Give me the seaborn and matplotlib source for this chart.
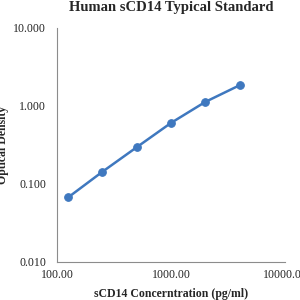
import matplotlib
matplotlib.use("Agg")
import matplotlib.pyplot as plt
import matplotlib.ticker as mticker
import pandas as pd
import seaborn as sns

# standard curve values
conc = [125, 250, 500, 1000, 2000, 4000]
od = [0.067, 0.143, 0.295, 0.605, 1.125, 1.84]

df = pd.DataFrame({"conc": conc, "od": od})

sns.set_style("white")
plt.rcParams["font.family"] = ["Liberation Serif", "DejaVu Serif"]

blue = "#3F78BF"
axis_grey = "#8C8C8C"

fig = plt.figure(figsize=(3, 3), dpi=100)
ax = fig.add_axes([0.19, 0.127, 0.76, 0.78])

sns.lineplot(data=df, x="conc", y="od", ax=ax, color=blue, linewidth=1.8,
             marker="o", markersize=5.5, markeredgecolor=blue, markerfacecolor=blue)

ax.set_xscale("log")
ax.set_yscale("log")
ax.set_xlim(100, 10000)
ax.set_ylim(0.01, 10)

ax.xaxis.set_major_formatter(mticker.FuncFormatter(lambda v, p: f"{v:.2f}"))
ax.yaxis.set_major_formatter(mticker.FuncFormatter(lambda v, p: f"{v:.3f}"))
ax.xaxis.set_minor_formatter(mticker.NullFormatter())
ax.yaxis.set_minor_formatter(mticker.NullFormatter())

ax.tick_params(which="both", direction="in", color=axis_grey, labelsize=8.6, pad=5)
ax.tick_params(which="major", length=3.5, width=0.7)
ax.tick_params(which="minor", length=2.5, width=0.6)
ax.tick_params(axis="y", pad=8)

for s in ["top", "right"]:
    ax.spines[s].set_visible(False)
for s in ["left", "bottom"]:
    ax.spines[s].set_color(axis_grey)
    ax.spines[s].set_linewidth(0.8)

ax.set_xlabel("sCD14 Concerntration (pg/ml)", fontsize=8.5, fontweight="bold", labelpad=5)
ax.set_ylabel("Optical Density", fontsize=8.5, fontweight="bold", labelpad=3)
fig.suptitle("Human sCD14 Typical Standard", fontsize=10.5, fontweight="bold", x=0.57, y=0.997)

fig.savefig("out.png", dpi=100)
